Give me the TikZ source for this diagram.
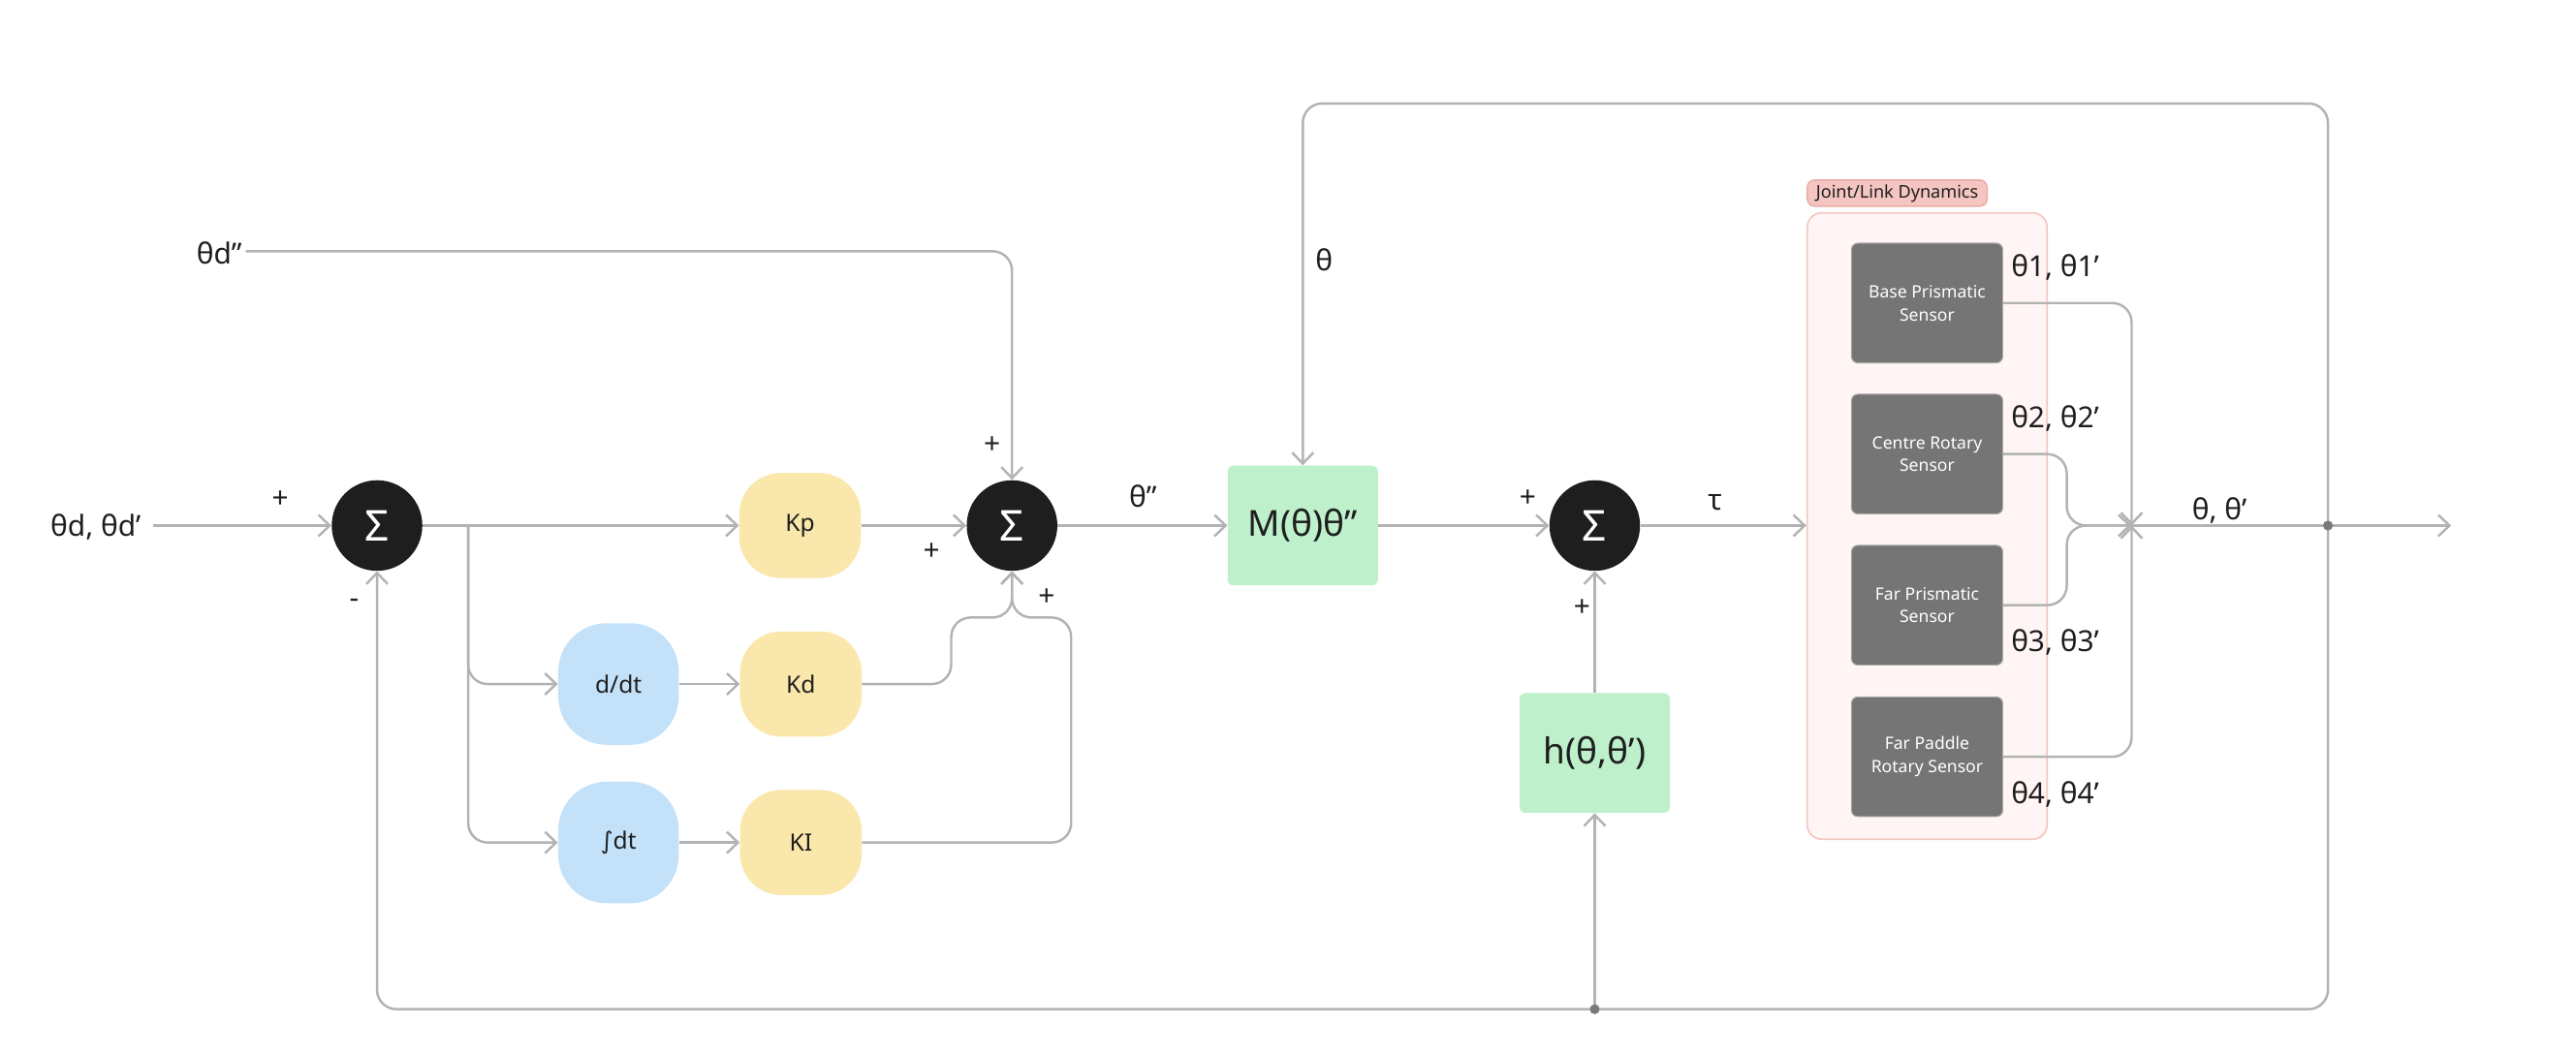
\documentclass[tikz,border=0pt]{standalone}
\usepackage{fontspec}
\setmainfont{Noto Sans}
\newfontfamily\djv{DejaVu Sans}
\usetikzlibrary{arrows.meta}
\definecolor{ln}{HTML}{B3B3B3}
\definecolor{sumc}{HTML}{1E1E1E}
\definecolor{yel}{HTML}{FAE7AC}
\definecolor{blu}{HTML}{C3E2FA}
\definecolor{grn}{HTML}{BEF0CB}
\definecolor{sgray}{HTML}{757575}
\definecolor{sbord}{HTML}{A8A8A8}
\definecolor{contfill}{HTML}{FFF5F4}
\definecolor{contdraw}{HTML}{F6C7C2}
\definecolor{labfill}{HTML}{F5C6C1}
\definecolor{labdraw}{HTML}{E7AAA5}
\definecolor{txt}{HTML}{1E1E1E}
\definecolor{dotc}{HTML}{7A7A7A}
\begin{document}
\begin{tikzpicture}[x=0.0339cm,y=-0.0339cm,
  conn/.style={draw=ln, line width=1.4pt, rounded corners=0.4cm},
  arr/.style={-{Straight Barb[length=2.3mm,width=4.4mm]}},
  sumnode/.style={circle, fill=sumc, minimum size=1.87cm, inner sep=0pt, text=white, font=\fontsize{25}{25}\selectfont},
  ybox/.style={rectangle, rounded corners=0.85cm, fill=yel, minimum width=2.51cm, minimum height=2.17cm, inner sep=0pt, text=txt, font=\fontsize{14}{16}\selectfont},
  bbox/.style={rectangle, rounded corners=1.0cm, fill=blu, minimum width=2.49cm, minimum height=2.51cm, inner sep=0pt, text=txt, font=\fontsize{14}{16}\selectfont},
  gbox/.style={rectangle, rounded corners=0.12cm, fill=grn, minimum width=3.1cm, minimum height=2.47cm, inner sep=0pt, text=txt, font=\fontsize{21}{24}\selectfont},
  sbox/.style={rectangle, rounded corners=0.13cm, fill=sgray, draw=sbord, line width=0.6pt, minimum width=3.12cm, minimum height=2.47cm, inner sep=0pt, text=white, align=center, font=\fontsize{10}{13.5}\selectfont},
  lab/.style={text=txt, inner sep=0pt, font=\fontsize{17}{20}\selectfont},
  pm/.style={text=txt, inner sep=0pt, font=\fontsize{17}{17}\selectfont\bfseries},
  dot/.style={circle, fill=dotc, minimum size=0.2cm, inner sep=0pt}
]
\useasboundingbox (0,0) rectangle (1568,643);

% container and header
\node[rectangle, rounded corners=0.3cm, fill=contfill, draw=contdraw, line width=1pt, minimum width=4.95cm, minimum height=12.93cm, inner sep=0pt] (grp) at (1173,320.3) {};
\node[rectangle, rounded corners=0.15cm, fill=labfill, draw=labdraw, line width=0.8pt, minimum width=3.71cm, minimum height=0.54cm, inner sep=0pt, text=txt, font=\fontsize{10.3}{11}\selectfont] (glab) at (1154.8,117.6) {Joint/Link Dynamics};

% nodes
\node[sumnode] (s1) at (229.5,320) {Σ};
\node[ybox] (kp) at (487,320) {Kp};
\node[bbox] (dd) at (376.5,416.5) {d/dt};
\node[ybox] (kd) at (487.5,416.5) {Kd};
\node[bbox] (it) at (376.5,513) {{\djv ∫}dt};
\node[ybox] (ki) at (487.5,513) {KI};
\node[sumnode] (s2) at (616,320) {Σ};
\node[gbox] (M) at (793,320) {M(θ)θ”};
\node[sumnode] (s3) at (970.7,320) {Σ};
\node[gbox] (h) at (970.7,458.5) {h(θ,θ’)};

\node[sbox] (b1) at (1173,184.5) {Base Prismatic\\Sensor};
\node[sbox] (b2) at (1173,276.5) {Centre Rotary\\Sensor};
\node[sbox] (b3) at (1173,368.5) {Far Prismatic\\Sensor};
\node[sbox] (b4) at (1173,460.8) {Far Paddle\\Rotary Sensor};

% text labels
\node[lab, anchor=east] (tin) at (86,321) {θd, θd’};
\node[lab, anchor=east] (tdd) at (147.5,154) {θd”};
\node[lab] (tth) at (806,158) {θ};
\node[lab] (tthdd) at (695.7,302) {θ”};
\node[lab] (ttau) at (1044,306) {τ};
\node[lab] (tout) at (1351,311) {θ, θ’};
\node[lab, anchor=west] (t1) at (1224,163) {θ1, θ1’};
\node[lab, anchor=west] (t2) at (1224,255) {θ2, θ2’};
\node[lab, anchor=west] (t3) at (1224,391) {θ3, θ3’};
\node[lab, anchor=west] (t4) at (1224,484) {θ4, θ4’};

\node[pm] (p1) at (170.6,304) {+};
\node[pm] (m1) at (215.5,367.6) {-};
\node[pm] (p2) at (603.8,271.4) {+};
\node[pm] (p3) at (567,335.8) {+};
\node[pm] (p4) at (637,363.8) {+};
\node[pm] (p5) at (930,303.8) {+};
\node[pm] (p6) at (963,370) {+};

% coordinates
\coordinate (in) at (93.5,320);
\coordinate (ddd) at (149.6,153);
\coordinate (br) at (285,320);
\coordinate (mrg) at (616,376);
\coordinate (jn) at (1297.5,320);
\coordinate (out) at (1492,320);
\node[dot] (fb) at (1417,320) {};
\node[dot] (hb) at (970.7,614.5) {};

% connectors
\draw[conn, arr] (in) -- (s1.west);
\draw[conn, arr] (ddd) -- (s2.north |- ddd) -- (s2.north);
\draw[conn, arr] (s1.east) -- (kp.west);
\draw[conn, arr] (br) -- (br |- dd) -- (dd.west);
\draw[conn, arr] (br) -- (br |- it) -- (it.west);
\draw[conn, arr] (dd.east) -- (kd.west);
\draw[conn, arr] (it.east) -- (ki.west);
\draw[conn, arr] (kp.east) -- (s2.west);
\draw[conn, arr] (kd.east) -- (579,416.5) -- (579,376) -- (mrg) -- (s2.south);
\draw[conn, arr] (ki.east) -- (652,513) -- (652,376) -- (mrg) -- (s2.south);
\draw[conn, arr] (s2.east) -- (M.west);
\draw[conn, arr] (M.east) -- (s3.west);
\draw[conn, arr] (s3.east) -- (s3.east -| grp.west);
\draw[conn, arr] (h.north) -- (s3.south);

\draw[conn, arr] (b1.east) -- (jn |- b1.east) -- (jn);
\draw[conn, arr] (b2.east) -- (1258,276.5) -- (1258,320) -- (jn);
\draw[conn, arr] (b3.east) -- (1258,368.5) -- (1258,320) -- (jn);
\draw[conn, arr] (b4.east) -- (jn |- b4.east) -- (jn);
\draw[conn, arr] (jn) -- (out);

\draw[conn, arr] (fb.center) -- (1417,63) -- (793,63) -- (M.north);
\draw[conn, arr] (fb.center) -- (1417,614.5) -- (229.5,614.5) -- (s1.south);
\draw[conn, arr] (hb.center) -- (h.south);
\node[dot] at (fb) {};
\node[dot] at (hb) {};
\end{tikzpicture}
\end{document}
